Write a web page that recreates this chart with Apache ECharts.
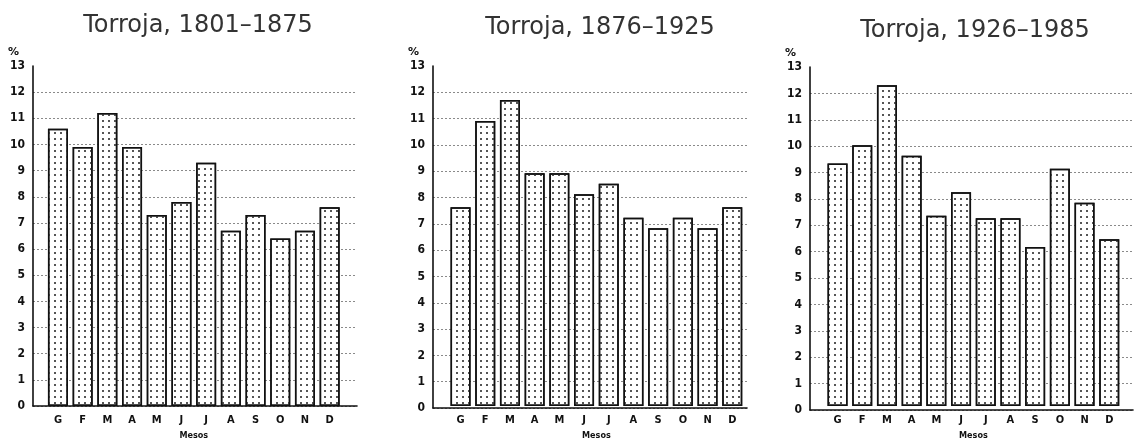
<!DOCTYPE html>
<html>
<head>
<meta charset="utf-8">
<script src="https://cdn.jsdelivr.net/npm/echarts@6/dist/echarts.min.js"></script>
<style>
  html, body { margin: 0; padding: 0; background: #fff; }
  #main { width: 1137px; height: 445px; }
</style>
</head>
<body>
<div id="main"></div>
<script>
// mesos (G = gener ... D = desembre)
var meses = ['G', 'F', 'M', 'A', 'M', 'J', 'J', 'A', 'S', 'O', 'N', 'D']
var yTicks = ['0', '1', '2', '3', '4', '5', '6', '7', '8', '9', '10', '11', '12', '13']
var titles = ['Torroja, 1801–1875', 'Torroja, 1876–1925', 'Torroja, 1926–1985']

// percentatge mensual
var torroja1801 = [10.6, 9.9, 11.2, 9.9, 7.3, 7.8, 9.3, 6.7, 7.3, 6.4, 6.7, 7.6]
var torroja1876 = [7.6, 10.9, 11.7, 8.9, 8.9, 8.1, 8.5, 7.2, 6.8, 7.2, 6.8, 7.6]
var torroja1926 = [9.3, 10.0, 12.3, 9.6, 7.3, 8.2, 7.2, 7.2, 6.1, 9.1, 7.8, 6.4]

var seriesData = [torroja1801, torroja1876, torroja1926]

// layout of each panel: frame = axes box, bars = category band
var panels = [
  { frameLeft: 33, frameWidth: 324, barLeft: 45.6, top: 66, height: 340, titleX: 193, titleTop: 9 },
  { frameLeft: 433, frameWidth: 314, barLeft: 448.2, top: 66, height: 342, titleX: 595, titleTop: 11 },
  { frameLeft: 810, frameWidth: 323, barLeft: 825.2, top: 67, height: 343, titleX: 970, titleTop: 14 }
]

var gridColors = []
for (let i = 0; i < yTicks.length; i++) {
  gridColors.push(i === yTicks.length - 1 ? 'rgba(0,0,0,0)' : '#8a8a8a')
}

var chart = echarts.init(document.getElementById('main'), null, {renderer: 'canvas'})

var option = {
  backgroundColor: '#ffffff',
  animation: false,
  title: [],
  grid: [],
  xAxis: [],
  yAxis: [],
  series: []
}

panels.forEach((p, k) => {
  option.title.push({
    text: titles[k],
    left: p.titleX,
    top: p.titleTop,
    textAlign: 'center',
    textStyle: {
      fontFamily: 'DejaVu Sans',
      fontSize: 24,
      fontWeight: 'normal',
      color: '#333'
    }
  })

  // frame grid: axis lines, y labels, dotted gridlines
  option.grid.push({left: p.frameLeft, top: p.top, width: p.frameWidth, height: p.height})
  // bar grid
  option.grid.push({left: p.barLeft, top: p.top, width: 296.4, height: p.height})

  var fg = k * 2
  var bg = k * 2 + 1

  option.xAxis.push({
    gridIndex: fg,
    type: 'value',
    min: 0,
    max: 1,
    axisLine: {show: true, lineStyle: {color: '#111', width: 1.6}},
    axisTick: {show: false},
    axisLabel: {show: false},
    splitLine: {show: false}
  })
  option.yAxis.push({
    gridIndex: fg,
    type: 'value',
    min: 0,
    max: 13,
    interval: 1,
    name: '%',
    nameLocation: 'end',
    nameGap: 8,
    nameTextStyle: {
      fontFamily: 'DejaVu Sans',
      fontSize: 11,
      fontWeight: 'bold',
      color: '#111',
      align: 'right',
      padding: [0, 14, 0, 0]
    },
    axisLine: {show: true, lineStyle: {color: '#111', width: 1.6}},
    axisTick: {show: false},
    axisLabel: {
      margin: 8,
      fontFamily: 'DejaVu Sans Condensed',
      fontSize: 12,
      fontWeight: 'bold',
      color: '#111',
      formatter: (v) => yTicks[v]
    },
    splitLine: {
      show: true,
      lineStyle: {color: gridColors, type: [2, 2], width: 1}
    }
  })

  option.xAxis.push({
    gridIndex: bg,
    type: 'category',
    data: meses,
    name: 'Mesos',
    nameLocation: 'middle',
    nameGap: 24,
    nameTextStyle: {
      fontFamily: 'DejaVu Sans Condensed',
      fontSize: 9,
      fontWeight: 'bold',
      color: '#111'
    },
    axisLine: {show: false},
    axisTick: {show: false},
    axisLabel: {
      margin: 9,
      interval: 0,
      fontFamily: 'DejaVu Sans Condensed',
      fontSize: 11,
      fontWeight: 'bold',
      color: '#111'
    },
    splitLine: {show: false}
  })
  option.yAxis.push({
    gridIndex: bg,
    type: 'value',
    min: 0,
    max: 13,
    show: false
  })

  option.series.push({
    type: 'bar',
    xAxisIndex: k * 2 + 1,
    yAxisIndex: k * 2 + 1,
    data: seriesData[k],
    barWidth: 20,
    itemStyle: {
      color: '#ffffff',
      borderColor: '#111',
      borderWidth: 1.5,
      decal: {
        symbol: 'rect',
        symbolSize: 1,
        color: '#555',
        dashArrayX: [1.2, 3.8],
        dashArrayY: [1.2, 3.2]
      }
    }
  })
})

chart.setOption(option, true)
</script>
</body>
</html>
